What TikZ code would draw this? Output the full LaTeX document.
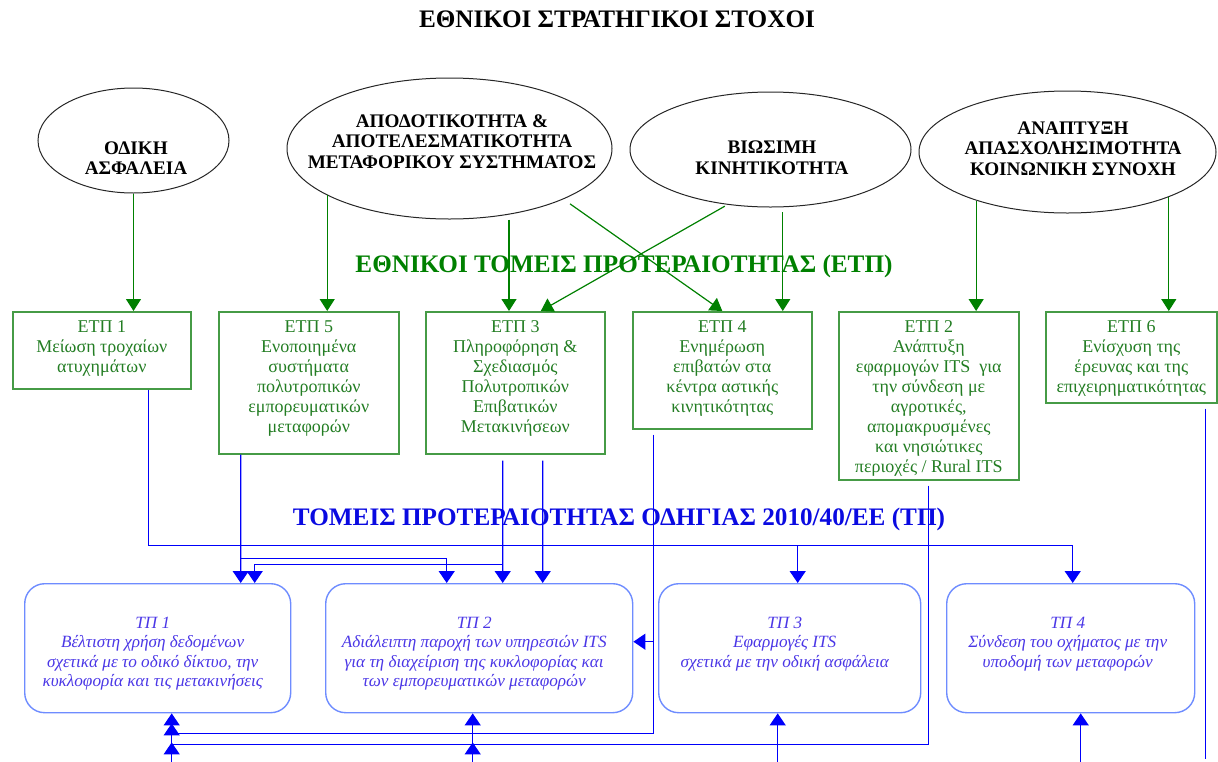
\documentclass[tikz,border=0pt]{standalone}
\usepackage{fontspec}
\setmainfont{Liberation Serif}
\usetikzlibrary{shapes.geometric,arrows.meta,calc}
\definecolor{gline}{RGB}{0,128,0}
\definecolor{gbox}{RGB}{70,155,70}
\definecolor{gtext}{RGB}{35,125,35}
\definecolor{bline}{RGB}{0,0,250}
\definecolor{bbox}{RGB}{110,140,255}
\definecolor{btext}{RGB}{75,55,230}
\definecolor{btitle}{RGB}{10,10,225}
\begin{document}
\begin{tikzpicture}[x=1pt,y=-1pt,
  goal/.style={ellipse,draw=black!85,line width=1pt,inner sep=0pt},
  goaltext/.style={align=center,inner sep=0pt,font=\fontsize{19.2}{20.5}\selectfont\bfseries},
  etpbox/.style={draw=gbox,line width=1.6pt,inner sep=0pt,anchor=north west},
  etptext/.style={align=center,inner sep=0pt,anchor=north,text=gtext,font=\fontsize{18}{20}\selectfont},
  tpbox/.style={draw=bbox,line width=1.4pt,rounded corners=20pt,inner sep=0pt,anchor=north west,minimum height=129pt},
  tptext/.style={align=center,inner sep=0pt,anchor=north,text=btext,font=\fontsize{17.2}{19.5}\selectfont\itshape},
  gconn/.style={draw=gline,line width=1.2pt,-{Triangle[width=15pt,length=12pt]}},
  bconn/.style={draw=bline,line width=1.3pt},
  btip/.style={-{Triangle[width=16pt,length=12pt]}},
  btipstart/.style={{Triangle[width=16pt,length=12pt]}-},
  sectitle/.style={font=\fontsize{25.2}{28}\selectfont\bfseries,inner sep=0pt}
]
\useasboundingbox (0,0) rectangle (1218,761);

% titles
\node[sectitle] (title) at (617,19) {ΕΘΝΙΚΟΙ ΣΤΡΑΤΗΓΙΚΟΙ ΣΤΟΧΟΙ};
\node[sectitle,text=gline] (etptitle) at (624,266.5) {ΕΘΝΙΚΟΙ ΤΟΜΕΙΣ ΠΡΟΤΕΡΑΙΟΤΗΤΑΣ (ΕΤΠ)};
\node[sectitle,text=btitle] (tptitle) at (619,519.5) {ΤΟΜΕΙΣ ΠΡΟΤΕΡΑΙΟΤΗΤΑΣ ΟΔΗΓΙΑΣ 2010/40/ΕΕ (ΤΠ)};

% strategic goals
\node[goal,minimum width=191pt,minimum height=105pt] (e1) at (133.5,140.5) {};
\node[goal,minimum width=325pt,minimum height=141pt] (e2) at (449.5,148.5) {};
\node[goal,minimum width=281pt,minimum height=115pt] (e3) at (770.5,149.5) {};
\node[goal,minimum width=297pt,minimum height=122pt] (e4) at (1067.5,152) {};
\node[goaltext] (e1t) at (136,158) {ΟΔΙΚΗ\\ΑΣΦΑΛΕΙΑ};
\node[goaltext] (e2t) at (452,141.5) {ΑΠΟΔΟΤΙΚΟΤΗΤΑ \&\\ΑΠΟΤΕΛΕΣΜΑΤΙΚΟΤΗΤΑ\\ΜΕΤΑΦΟΡΙΚΟΥ ΣΥΣΤΗΜΑΤΟΣ};
\node[goaltext] (e3t) at (772,157.5) {ΒΙΩΣΙΜΗ\\ΚΙΝΗΤΙΚΟΤΗΤΑ};
\node[goaltext] (e4t) at (1073,148.5) {ΑΝΑΠΤΥΞΗ\\ΑΠΑΣΧΟΛΗΣΙΜΟΤΗΤΑ\\ΚΟΙΝΩΝΙΚΗ ΣΥΝΟΧΗ};

% national priority areas
\node[etpbox,minimum width=178pt,minimum height=77pt] (etp1) at (12,311) {};
\node[etpbox,minimum width=180pt,minimum height=142pt] (etp5) at (218,311) {};
\node[etpbox,minimum width=179pt,minimum height=142pt] (etp3) at (425,311) {};
\node[etpbox,minimum width=179pt,minimum height=117pt] (etp4) at (632,311) {};
\node[etpbox,minimum width=180pt,minimum height=168pt] (etp2) at (838,311) {};
\node[etpbox,minimum width=171pt,minimum height=91pt] (etp6) at (1045,311) {};
\node[etptext] (etp1t) at ([yshift=-9.5pt]etp1.north) {ΕΤΠ 1\\Μείωση τροχαίων\\ατυχημάτων};
\node[etptext] (etp5t) at ([yshift=-9.5pt]etp5.north) {ΕΤΠ 5\\Ενοποιημένα\\συστήματα\\πολυτροπικών\\εμπορευματικών\\μεταφορών};
\node[etptext] (etp3t) at ([yshift=-9.5pt]etp3.north) {ΕΤΠ 3\\Πληροφόρηση \&\\Σχεδιασμός\\Πολυτροπικών\\Επιβατικών\\Μετακινήσεων};
\node[etptext] (etp4t) at ([yshift=-9.5pt]etp4.north) {ΕΤΠ 4\\Ενημέρωση\\επιβατών στα\\κέντρα αστικής\\κινητικότητας};
\node[etptext] (etp2t) at ([yshift=-9.5pt]etp2.north) {ΕΤΠ 2\\Ανάπτυξη\\εφαρμογών ITS\ \ για\\την σύνδεση με\\αγροτικές,\\απομακρυσμένες\\και νησιώτικες\\περιοχές / Rural ITS};
\node[etptext] (etp6t) at ([yshift=-9.5pt]etp6.north) {ΕΤΠ 6\\Ενίσχυση της\\έρευνας και της\\επιχειρηματικότητας};

% directive priority areas
\node[tpbox,minimum width=266pt] (tp1) at (24,583) {};
\node[tpbox,minimum width=307pt] (tp2) at (325,583) {};
\node[tpbox,minimum width=262pt] (tp3) at (658,583) {};
\node[tpbox,minimum width=248pt] (tp4) at (946,583) {};
\node[tptext] (tp1t) at ([xshift=-5pt,yshift=-33.5pt]tp1.north) {ΤΠ 1\\Βέλτιστη χρήση δεδομένων\\σχετικά με το οδικό δίκτυο, την\\κυκλοφορία και τις μετακινήσεις};
\node[tptext] (tp2t) at ([xshift=-5pt,yshift=-33.5pt]tp2.north) {ΤΠ 2\\Αδιάλειπτη παροχή των υπηρεσιών ITS\\για τη διαχείριση της κυκλοφορίας και\\των εμπορευματικών μεταφορών};
\node[tptext] (tp3t) at ([xshift=-5pt,yshift=-33.5pt]tp3.north) {ΤΠ 3\\Εφαρμογές ITS\\σχετικά με την οδική ασφάλεια};
\node[tptext] (tp4t) at ([xshift=-3pt,yshift=-33.5pt]tp4.north) {ΤΠ 4\\Σύνδεση του οχήματος με την\\υποδομή των μεταφορών};

% goals -> national priority areas
\draw[gconn] (e1.south) -- (e1.south |- etp1.north);
\draw[gconn] (e2.201) -- (e2.201 |- etp5.north);
\draw[gconn,shorten <=5pt] (e2.312) -- (e2.312 |- etp3.north);
\draw[gconn,shorten <=8pt] (e2.336) -- (etp4.north);
\draw[gconn,shorten <=3pt] (e3.232) -- ([xshift=25.5pt]etp3.north);
\draw[gconn,shorten <=5pt] (e3.282) -- (e3.282 |- etp4.north);
\draw[gconn] (e4.208) -- (e4.208 |- etp2.north);
\draw[gconn] (e4.336) -- (e4.336 |- etp6.north);

% national priority areas -> directive priority areas
\draw[bconn,btip] ([xshift=47pt]etp1.south) -- ++(0,156) coordinate (row1) -| ([xshift=2pt]tp4.north);
\coordinate (tp3in) at ([xshift=8pt]tp3.north);
\draw[bconn,btipstart] (tp3in) -- (tp3in |- row1);
\draw[bconn,btip] ([xshift=-68pt]etp5.south) -- ([xshift=83pt]tp1.north);
\draw[bconn,btip] ([xshift=-68pt]etp5.south) ++(0,104) -| ([xshift=-32.5pt]tp2.north);
\draw[bconn,btip] ([xshift=-12.5pt,yshift=-6pt]etp3.south) -- ([xshift=23.5pt]tp2.north);
\draw[bconn,btip] ([xshift=-12.5pt]etp3.south) ++(0,110) -| ([xshift=97pt]tp1.north);
\draw[bconn,btip] ([xshift=27.5pt,yshift=-6pt]etp3.south) -- ([xshift=63.5pt]tp2.north);
\draw[bconn] ([xshift=-68.5pt,yshift=-5pt]etp4.south) |- ([xshift=14pt,yshift=-20pt]tp1.south);
\draw[bconn,btip] ([xshift=14pt,yshift=-20pt]tp1.south) -- ++(0,-10);
\draw[bconn,btipstart] ([yshift=6.5pt]tp2.east) -- ++(21,0);
\draw[bconn] ([yshift=-5pt]etp2.south) |- ([xshift=14pt,yshift=-31pt]tp1.south);
\draw[bconn] ([xshift=74.5pt,yshift=-5pt]etp6.south) -- ++(0,350);

% inputs entering from below
\draw[bconn,btipstart] ([xshift=14pt]tp1.south) -- ++(0,50);
\draw[bconn,btip] ([xshift=14pt,yshift=-39pt]tp1.south) -- ++(0,-10);
\draw[bconn,btipstart] ([xshift=-6.5pt]tp2.south) -- ++(0,50);
\draw[bconn,btip] ([xshift=-6.5pt,yshift=-39pt]tp2.south) -- ++(0,-10);
\draw[bconn,btipstart] ([xshift=-12pt]tp3.south) -- ++(0,50);
\draw[bconn,btipstart] ([xshift=10pt]tp4.south) -- ++(0,50);
\end{tikzpicture}
\end{document}
